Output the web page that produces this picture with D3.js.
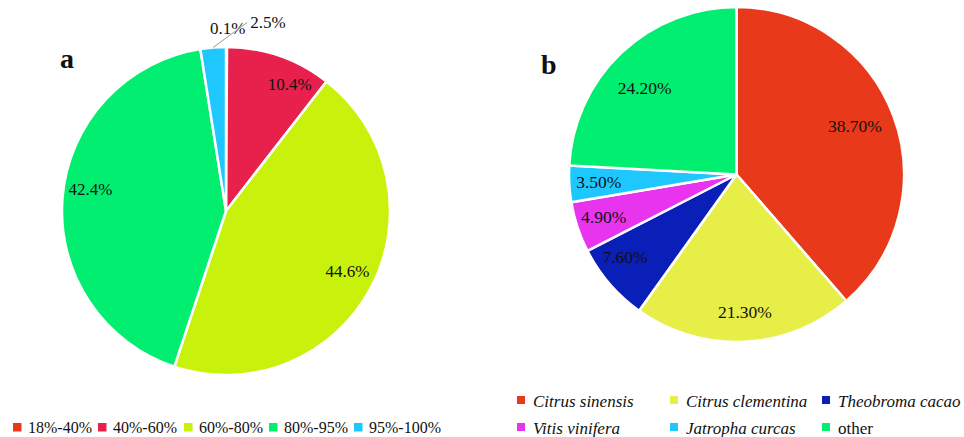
<!DOCTYPE html>
<html>
<head>
<meta charset="utf-8">
<script src="https://cdn.jsdelivr.net/npm/d3@7/dist/d3.min.js"></script>
<style>
  html, body { margin: 0; padding: 0; background: #fff; }
  svg text { font-family: "Liberation Serif", "DejaVu Serif", serif; }
</style>
</head>
<body>
<svg id="chart" width="964" height="437"></svg>
<script>
const FONT = "'Liberation Serif', 'DejaVu Serif', serif";

// Panel a: distribution by identity range
const rangeLabels = ["18%-40%", "40%-60%", "60%-80%", "80%-95%", "95%-100%"];
const rangeValues = [0.1, 10.4, 44.6, 42.4, 2.5];
const rangeColors = ["#E8391A", "#E8204C", "#C8F20C", "#02EE70", "#1EC8FF"];
// fine placement of the inside labels (px)
const rangeLabelNudge = [[0, 0], [18, 5], [-2, -6], [4, -11], [0, 0]];

// Panel b: distribution by species
const speciesLabels = ["Citrus sinensis", "Citrus clementina", "Theobroma cacao", "Vitis vinifera", "Jatropha curcas", "other"];
const speciesValues = [38.7, 21.3, 7.6, 4.9, 3.5, 24.2];
const speciesColors = ["#E8391A", "#E8EE48", "#0A1EB8", "#E834EE", "#1EC8FF", "#02EE70"];
const speciesItalic = [true, true, true, true, true, false];
const speciesLabelNudge = [[-8, -1], [2, 3], [-4, -10], [2, -2], [4, -1], [1, 11]];

const svg = d3.select("#chart");
const pie = d3.pie().sort(null).value(d => d.value);

function drawPie(cx, cy, r, labels, values, colors) {
  const data = labels.map((l, i) => ({ label: l, value: values[i], color: colors[i], idx: i }));
  const arcs = pie(data);
  const g = svg.append("g").attr("transform", `translate(${cx},${cy})`);
  const arc = d3.arc().innerRadius(0).outerRadius(r);
  g.selectAll("path.slice").data(arcs).join("path")
    .attr("class", "slice")
    .attr("d", arc)
    .attr("fill", d => d.data.color)
    .attr("stroke", "#fff")
    .attr("stroke-width", 2.5)
    .attr("stroke-linejoin", "round");
  return { g, arcs, r };
}

// ---- Panel a ----
const pa = drawPie(226, 211, 164, rangeLabels, rangeValues, rangeColors);
const labelArcA = d3.arc().innerRadius(140).outerRadius(140);
pa.g.selectAll("text.in").data(pa.arcs.filter(d => d.data.value >= 5)).join("text")
  .attr("class", "in")
  .attr("transform", d => {
    const c = labelArcA.centroid(d);
    const n = rangeLabelNudge[d.data.idx];
    return `translate(${c[0] + n[0]},${c[1] + n[1]})`;
  })
  .attr("text-anchor", "middle")
  .attr("dy", "0.35em")
  .attr("font-family", FONT)
  .attr("font-size", 17)
  .attr("fill", "#111")
  .text(d => d3.format(".1f")(d.data.value) + "%");

// small slices get outside labels
pa.arcs.filter(d => d.data.value < 5).forEach(d => {
  const mid = (d.startAngle + d.endAngle) / 2;
  const edge = [Math.sin(mid) * pa.r, -Math.cos(mid) * pa.r];
  const txt = d3.format(".1f")(d.data.value) + "%";
  if (d.data.value < 1) {
    const p = [Math.sin(mid) * (pa.r + 19), -Math.cos(mid) * (pa.r + 19)];
    pa.g.append("text")
      .attr("x", p[0] + 1).attr("y", p[1])
      .attr("text-anchor", "middle")
      .attr("dy", "0.35em")
      .attr("font-family", FONT)
      .attr("font-size", 17)
      .attr("fill", "#111")
      .text(txt);
  } else {
    const end = [edge[0] + 34, edge[1] - 25];
    pa.g.append("line")
      .attr("x1", edge[0]).attr("y1", edge[1])
      .attr("x2", end[0]).attr("y2", end[1])
      .attr("stroke", "#999").attr("stroke-width", 1);
    pa.g.append("text")
      .attr("x", end[0] + 3).attr("y", end[1])
      .attr("text-anchor", "start")
      .attr("dy", "0.3em")
      .attr("font-family", FONT)
      .attr("font-size", 17)
      .attr("fill", "#111")
      .text(txt);
  }
});

// ---- Panel b ----
const pb = drawPie(736.5, 174.5, 167.5, speciesLabels, speciesValues, speciesColors);
pb.g.selectAll("text.in").data(pb.arcs).join("text")
  .attr("class", "in")
  .attr("transform", d => {
    const frac = (d.endAngle - d.startAngle) / (2 * Math.PI);
    const rr = frac < 0.1 ? 142 : 135;
    const c = d3.arc().innerRadius(rr).outerRadius(rr).centroid(d);
    const n = speciesLabelNudge[d.data.idx];
    return `translate(${c[0] + n[0]},${c[1] + n[1]})`;
  })
  .attr("text-anchor", "middle")
  .attr("dy", "0.35em")
  .attr("font-family", FONT)
  .attr("font-size", 17.5)
  .attr("fill", "#111")
  .text(d => d3.format(".2f")(d.data.value) + "%");

// ---- Panel letters ----
svg.append("text").attr("x", 60).attr("y", 68)
  .attr("font-family", FONT).attr("font-size", 28).attr("font-weight", "bold")
  .attr("fill", "#111").text("a");
svg.append("text").attr("x", 541).attr("y", 74)
  .attr("font-family", FONT).attr("font-size", 28).attr("font-weight", "bold")
  .attr("fill", "#111").text("b");

// ---- Legend a ----
const legA = svg.append("g").attr("transform", "translate(13,423)");
const legAX = [0, 85, 171, 256, 341];
rangeLabels.forEach((l, i) => {
  const it = legA.append("g").attr("transform", `translate(${legAX[i]},0)`);
  it.append("rect").attr("width", 8.5).attr("height", 8.5).attr("fill", rangeColors[i]);
  it.append("text").attr("x", 15).attr("y", 10)
    .attr("font-family", FONT).attr("font-size", 16)
    .attr("fill", "#111").text(l);
});

// ---- Legend b ----
const legB = svg.append("g").attr("transform", "translate(517,396)");
const colX = [0, 153, 305];
speciesLabels.forEach((l, i) => {
  const col = i % 3, row = Math.floor(i / 3);
  const it = legB.append("g").attr("transform", `translate(${colX[col]},${row * 27})`);
  it.append("rect").attr("width", 8).attr("height", 8).attr("fill", speciesColors[i]);
  it.append("text").attr("x", 16).attr("y", 10.5)
    .attr("font-family", FONT).attr("font-size", 17)
    .attr("font-style", speciesItalic[i] ? "italic" : "normal")
    .attr("fill", "#111").text(l);
});
</script>
</body>
</html>
